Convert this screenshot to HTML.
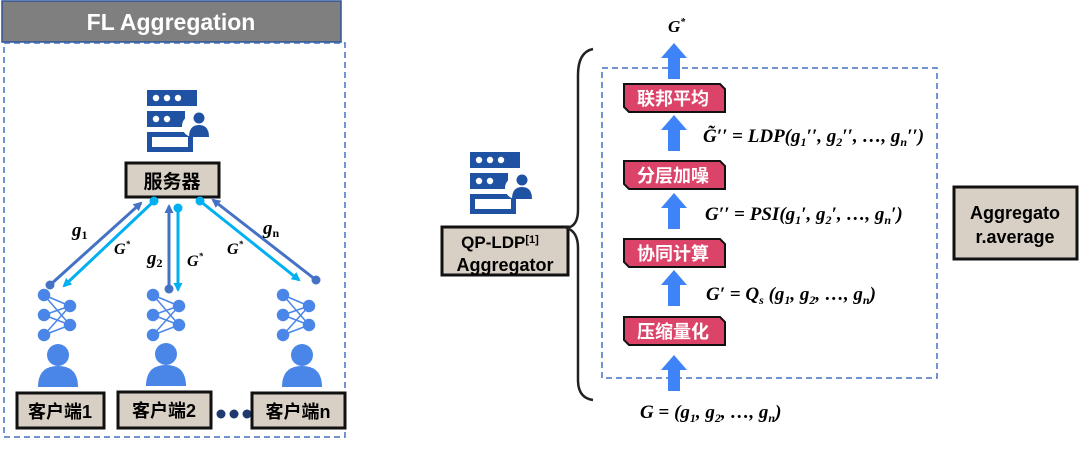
<!DOCTYPE html>
<html><head><meta charset="utf-8"><style>
body{margin:0;background:#fff;width:1080px;height:451px;overflow:hidden}
svg{display:block}
.cn{font-family:"Liberation Sans","Noto Sans CJK SC",sans-serif;font-weight:bold}
.m{font-family:"Liberation Serif","DejaVu Serif",serif;font-style:italic;font-weight:bold}
</style></head><body>
<svg width="1080" height="451" viewBox="0 0 1080 451">
<defs>
<marker id="ad" markerWidth="9" markerHeight="9" refX="7" refY="4.5" orient="auto" markerUnits="userSpaceOnUse"><path d="M0,0L9,4.5L0,9z" fill="#4472c4"/></marker>
<marker id="al" markerWidth="9" markerHeight="9" refX="7" refY="4.5" orient="auto" markerUnits="userSpaceOnUse"><path d="M0,0L9,4.5L0,9z" fill="#00b0f0"/></marker>
<g id="srv">
<rect x="0" y="0" width="50" height="16" fill="#1f52a3"/>
<circle cx="9" cy="8" r="3.2" fill="#fff"/><circle cx="20" cy="8" r="3.2" fill="#fff"/><circle cx="31" cy="8" r="3.2" fill="#fff"/>
<rect x="0" y="21" width="38" height="16" fill="#1f52a3"/>
<circle cx="9" cy="29" r="3.2" fill="#fff"/><circle cx="20" cy="29" r="3.2" fill="#fff"/>
<path d="M0,42H46V62H0z M5,47V57H41V47z" fill="#1f52a3" fill-rule="evenodd"/>
<circle cx="46" cy="36" r="11" fill="#fff"/>
<circle cx="52" cy="28" r="5.5" fill="#1f52a3"/>
<path d="M42,47Q42,35 52,35Q62,35 62,47z" fill="#1f52a3"/>
</g>
<g id="net" stroke="#4a86e8" stroke-width="1.5" fill="#4a86e8">
<line x1="0" y1="0" x2="26" y2="11"/><line x1="0" y1="0" x2="26" y2="30"/>
<line x1="0" y1="20" x2="26" y2="11"/><line x1="0" y1="20" x2="26" y2="30"/>
<line x1="0" y1="40" x2="26" y2="11"/><line x1="0" y1="40" x2="26" y2="30"/>
<circle cx="0" cy="0" r="5.5"/><circle cx="0" cy="20" r="5.5"/><circle cx="0" cy="40" r="5.5"/>
<circle cx="26" cy="11" r="5.5"/><circle cx="26" cy="30" r="5.5"/>
</g>
<g id="ppl" fill="#4a86e8"><circle cx="0" cy="-8" r="11"/><path d="M-20,24Q-20,3 0,3Q20,3 20,24z"/></g>
</defs>

<rect x="2" y="1" width="339" height="41" fill="#7f7f7f" stroke="#2f5597" stroke-width="1.5"/>
<text x="171" y="30" text-anchor="middle" class="cn" font-size="23" fill="#fff">FL Aggregation</text>
<rect x="4" y="43" width="341" height="394" fill="none" stroke="#4472c4" stroke-width="1.5" stroke-dasharray="6,4"/>
<use href="#srv" x="147" y="90"/>
<rect x="126" y="163" width="93" height="34" fill="#d9d0c5" stroke="#111" stroke-width="3"/>
<text x="172" y="188" text-anchor="middle" class="cn" font-size="19">服务器</text>

<line x1="50" y1="285" x2="141" y2="203" stroke="#4472c4" stroke-width="3" marker-end="url(#ad)"/>
<circle cx="50" cy="285" r="4.5" fill="#4472c4"/>
<line x1="154" y1="201" x2="64" y2="286" stroke="#00b0f0" stroke-width="3" marker-end="url(#al)"/>
<circle cx="154" cy="201" r="4.5" fill="#00b0f0"/>
<line x1="169" y1="289" x2="169" y2="206" stroke="#4472c4" stroke-width="3" marker-end="url(#ad)"/>
<circle cx="169" cy="289" r="4.5" fill="#4472c4"/>
<line x1="178" y1="208" x2="178" y2="290" stroke="#00b0f0" stroke-width="3" marker-end="url(#al)"/>
<circle cx="178" cy="208" r="4.5" fill="#00b0f0"/>
<line x1="200" y1="201" x2="299" y2="280" stroke="#00b0f0" stroke-width="3" marker-end="url(#al)"/>
<circle cx="200" cy="201" r="4.5" fill="#00b0f0"/>
<line x1="316" y1="280" x2="213" y2="200" stroke="#4472c4" stroke-width="3" marker-end="url(#ad)"/>
<circle cx="316" cy="280" r="4.5" fill="#4472c4"/>

<text x="72" y="236" class="m" font-size="19">g<tspan font-size="12" dy="3" font-style="normal">1</tspan></text>
<text x="114" y="254" class="m" font-size="16">G<tspan font-size="9" dy="-7">*</tspan></text>
<text x="147" y="264" class="m" font-size="19">g<tspan font-size="12" dy="3" font-style="normal">2</tspan></text>
<text x="187" y="266" class="m" font-size="16">G<tspan font-size="9" dy="-7">*</tspan></text>
<text x="227" y="254" class="m" font-size="16">G<tspan font-size="9" dy="-7">*</tspan></text>
<text x="263" y="234" class="m" font-size="19">g<tspan font-size="12" dy="3" font-style="normal">n</tspan></text>

<use href="#net" x="44" y="295"/><use href="#net" x="153" y="295"/><use href="#net" x="283" y="295"/>
<use href="#ppl" x="58" y="363"/><use href="#ppl" x="166" y="362"/><use href="#ppl" x="302" y="363"/>

<rect x="17" y="393" width="87" height="35" fill="#d9d0c5" stroke="#111" stroke-width="3"/>
<text x="60" y="418" text-anchor="middle" class="cn" font-size="18">客户端1</text>
<rect x="118" y="392" width="93" height="36" fill="#d9d0c5" stroke="#111" stroke-width="3"/>
<text x="164" y="417" text-anchor="middle" class="cn" font-size="18">客户端2</text>
<circle cx="221" cy="414" r="4.5" fill="#1f3a6e"/><circle cx="234" cy="414" r="4.5" fill="#1f3a6e"/><circle cx="247" cy="414" r="4.5" fill="#1f3a6e"/>
<rect x="252" y="393" width="93" height="35" fill="#d9d0c5" stroke="#111" stroke-width="3"/>
<text x="298" y="418" text-anchor="middle" class="cn" font-size="18">客户端n</text>

<use href="#srv" x="470" y="152"/>
<rect x="442" y="227" width="126" height="48" fill="#d9d0c5" stroke="#111" stroke-width="3"/>
<text x="500" y="248" text-anchor="middle" class="cn" font-size="17">QP-LDP<tspan font-size="11" dy="-5">[1]</tspan></text>
<text x="505" y="271" text-anchor="middle" class="cn" font-size="18">Aggregator</text>
<path d="M593,49Q578,52 578,75V210Q578,226 567,228Q578,232 578,248V380Q578,398 593,400" fill="none" stroke="#222" stroke-width="2.5"/>

<rect x="602" y="68" width="335" height="310" fill="none" stroke="#4472c4" stroke-width="1.5" stroke-dasharray="6,4"/>

<text x="668" y="32" class="m" font-size="17" font-weight="normal">G<tspan font-size="10" dy="-7">*</tspan></text>
<g fill="#3f83f8">
<path d="M668,79V58H661L674,43L687,58H680V79z"/>
<path d="M668,151V130H661L674,115L687,130H680V151z"/>
<path d="M668,229V208H661L674,193L687,208H680V229z"/>
<path d="M668,306V285H661L674,270L687,285H680V306z"/>
<path d="M668,391V370H661L674,355L687,370H680V391z"/>
</g>

<g>
<path d="M624,84H720L725,89V112H629L624,107z" fill="#dc4368" stroke="#111" stroke-width="2"/>
<text x="673" y="105" text-anchor="middle" class="cn" font-size="18" fill="#fff">联邦平均</text>
<path d="M624,161H720L725,166V189H629L624,184z" fill="#dc4368" stroke="#111" stroke-width="2"/>
<text x="673" y="182" text-anchor="middle" class="cn" font-size="18" fill="#fff">分层加噪</text>
<path d="M624,239H720L725,244V267H629L624,262z" fill="#dc4368" stroke="#111" stroke-width="2"/>
<text x="673" y="260" text-anchor="middle" class="cn" font-size="18" fill="#fff">协同计算</text>
<path d="M624,317H720L725,322V345H629L624,340z" fill="#dc4368" stroke="#111" stroke-width="2"/>
<text x="673" y="338" text-anchor="middle" class="cn" font-size="18" fill="#fff">压缩量化</text>
</g>

<text x="703" y="142" class="m" font-size="19">G̃′′ <tspan font-style="normal">=</tspan> LDP(g<tspan font-size="12" dy="4">1</tspan><tspan dy="-4">′′, g</tspan><tspan font-size="12" dy="4">2</tspan><tspan dy="-4">′′, …, g</tspan><tspan font-size="12" dy="4">n</tspan><tspan dy="-4">′′)</tspan></text>
<text x="705" y="220" class="m" font-size="19">G′′ <tspan font-style="normal">=</tspan> PSI(g<tspan font-size="12" dy="4">1</tspan><tspan dy="-4">′, g</tspan><tspan font-size="12" dy="4">2</tspan><tspan dy="-4">′, …, g</tspan><tspan font-size="12" dy="4">n</tspan><tspan dy="-4">′)</tspan></text>
<text x="706" y="300" class="m" font-size="19">G′ <tspan font-style="normal">=</tspan> Q<tspan font-size="12" dy="4">s</tspan><tspan dy="-4"> (g</tspan><tspan font-size="12" dy="4">1</tspan><tspan dy="-4">, g</tspan><tspan font-size="12" dy="4">2</tspan><tspan dy="-4">, …, g</tspan><tspan font-size="12" dy="4">n</tspan><tspan dy="-4">)</tspan></text>
<text x="640" y="418" class="m" font-size="19">G <tspan font-style="normal">=</tspan> (g<tspan font-size="12" dy="4">1</tspan><tspan dy="-4">, g</tspan><tspan font-size="12" dy="4">2</tspan><tspan dy="-4">, …, g</tspan><tspan font-size="12" dy="4">n</tspan><tspan dy="-4">)</tspan></text>

<rect x="954" y="187" width="123" height="72" fill="#d9d0c5" stroke="#111" stroke-width="3"/>
<text x="1015" y="219" text-anchor="middle" class="cn" font-size="18">Aggregato</text>
<text x="1015" y="243" text-anchor="middle" class="cn" font-size="18">r.average</text>
</svg>
</body></html>
